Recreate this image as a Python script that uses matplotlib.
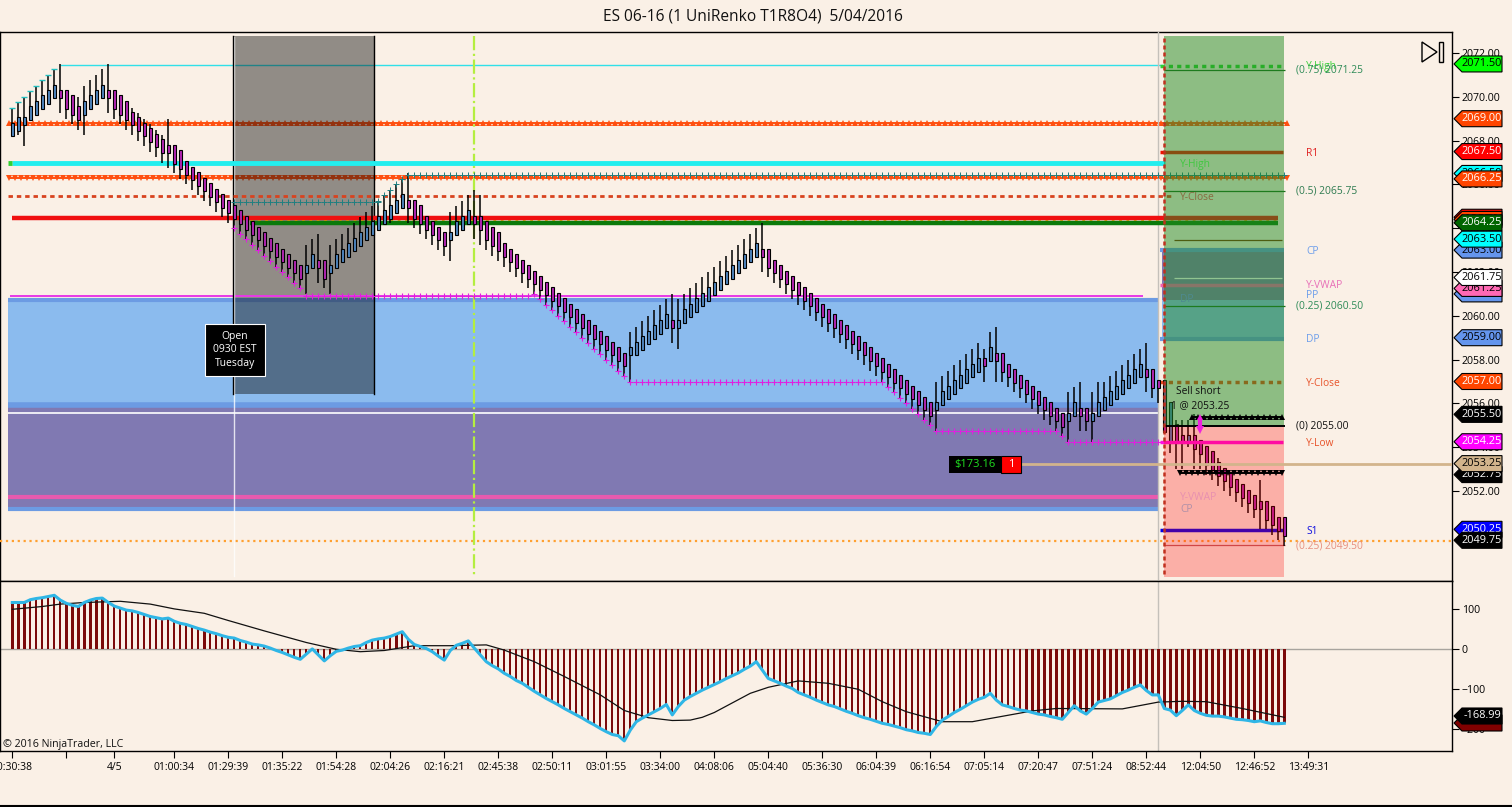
import numpy as np
import matplotlib
matplotlib.use('Agg')
import matplotlib.pyplot as plt
from matplotlib.patches import Polygon, Rectangle

opens = [2068.25,2068.5,2068.75,2069,2069.25,2069.5,2069.75,2070,2070.25,2070.25,
    2070,2069.5,2069.25,2069.5,2069.75,2070,2070.25,2070.25,2070,2069.75,
    2069.25,2069,2068.75,2068.5,2068.25,2068,2067.75,2067.75,2067.5,2067,
    2066.75,2066.5,2066.25,2066,2065.75,2065.5,2065.25,2065,2064.75,2064.5,
    2064.25,2064,2063.75,2063.5,2063.25,2063,2062.75,2062.5,2062.25,2062,
    2062.25,2062.5,2062.5,2062,2062.25,2062.5,2062.75,2063,2063.25,2063.5,
    2063.75,2064,2064.25,2064.5,2064.75,2065,2065.25,2065.25,2065,2064.5,
    2064.25,2064,2063.75,2063.5,2063.75,2064,2064.25,2064.5,2064.5,2064.25,
    2064,2063.75,2063.25,2063,2062.75,2062.5,2062.25,2062,2061.75,2061.5,
    2061.25,2061,2060.75,2060.5,2060.25,2060,2059.75,2059.5,2059.25,2059,
    2058.75,2058.5,2058.25,2058.25,2058.25,2058.5,2058.75,2059,2059.25,2059.5,
    2059.75,2059.5,2059.75,2060,2060.25,2060.5,2060.75,2061,2061.25,2061.5,
    2061.75,2062,2062.25,2062.5,2062.75,2063,2063,2062.5,2062.25,2062,
    2061.75,2061.5,2061.25,2061,2060.75,2060.5,2060.25,2060,2059.75,2059.5,
    2059.25,2059,2058.75,2058.5,2058.25,2058,2057.75,2057.5,2057.25,2057,
    2056.75,2056.5,2056.25,2056,2055.75,2056,2056.25,2056.5,2056.75,2057,
    2057.25,2057.5,2058,2058,2058.25,2058.25,2057.75,2057.5,2057.25,2057,
    2056.75,2056.5,2056.25,2056,2055.75,2055.5,2055.25,2055.5,2055.75,2055.75,
    2055.25,2055.5,2055.75,2056,2056.25,2056.5,2056.75,2057,2057.25,2057.5,
    2057.5,2057,2057,2054.25,2055,2054.5,2054.25,2054.5,2054.25,2054,
    2053.75,2053.25,2053,2052.75,2052.5,2052.25,2052,2051.75,2051.5,2051.5,
    2051.25,2050.75,2050.75]
closes = [2068.75,2069,2069,2069.5,2069.75,2070,2070.25,2070.5,2070,2069.5,
    2069.25,2069,2069.75,2070,2070.25,2070.5,2070,2069.5,2069.25,2069,
    2068.75,2068.5,2068.25,2068,2067.75,2067.5,2067.5,2067,2066.75,2066.5,
    2066.25,2066,2065.75,2065.5,2065.25,2065,2064.75,2064.5,2064.25,2064,
    2063.75,2063.5,2063.25,2063,2062.75,2062.5,2062.25,2062,2061.75,2062.25,
    2062.75,2062.25,2061.75,2062.25,2062.75,2063,2063.25,2063.5,2063.75,2064,
    2064.25,2064.5,2064.75,2065,2065.25,2065.5,2065,2064.5,2064.25,2064,
    2063.75,2063.5,2063.25,2063.75,2064.25,2064.5,2064.75,2064.25,2064,2063.5,
    2063.25,2063,2062.75,2062.5,2062.25,2062,2061.75,2061.5,2061.25,2061,
    2060.75,2060.5,2060.25,2060,2059.75,2059.5,2059.25,2059,2058.75,2058.5,
    2058.25,2058,2057.75,2058.5,2058.75,2059,2059.25,2059.5,2059.75,2060,
    2059.5,2059.75,2060.25,2060.5,2060.75,2061,2061.25,2061.5,2061.75,2062,
    2062.25,2062.5,2062.75,2063,2063.25,2062.75,2062.25,2062,2061.75,2061.5,
    2061.25,2061,2060.75,2060.5,2060.25,2060,2059.75,2059.5,2059.25,2059,
    2058.75,2058.5,2058.25,2058,2057.75,2057.5,2057.25,2057,2056.75,2056.5,
    2056.25,2056,2055.75,2055.5,2056,2056.5,2056.75,2057,2057.25,2057.5,
    2057.75,2058,2057.75,2058.5,2058,2057.5,2057.25,2057,2056.75,2056.5,
    2056.25,2056,2055.75,2055.5,2055.25,2055,2055.5,2056,2055.5,2055.25,
    2055.5,2056,2056.25,2056.5,2056.75,2057,2057.25,2057.5,2057.75,2057.25,
    2056.75,2056.75,2054.75,2056,2054.25,2054.25,2054.5,2054,2053.75,2053.25,
    2053,2052.75,2052.5,2052.25,2052,2051.75,2051.5,2051.25,2051.25,2050.75,
    2050.5,2050.25,2050]
highs = [2069.5,2069.75,2070,2070.25,2070.5,2070.75,2071,2071.25,2071.5,2070.25,
    2070,2070,2070.5,2070.75,2071,2071.25,2071.5,2070.25,2070,2069.75,
    2069.5,2069.25,2069,2068.75,2068.5,2068.25,2069,2067.75,2067.5,2067,
    2066.75,2066.5,2066.25,2066,2065.75,2065.5,2065.25,2065,2064.75,2064.5,
    2064.25,2064,2063.75,2063.5,2063.25,2063,2062.75,2062.5,2062.25,2063.25,
    2063.5,2063.75,2062.5,2063.25,2063.5,2063.75,2064,2064.25,2064.5,2064.75,
    2065,2065.25,2065.5,2065.75,2066,2066.25,2066.5,2065.25,2065,2064.5,
    2064.25,2064,2063.75,2064.75,2065,2065.25,2065.5,2065.75,2065.5,2064.25,
    2064,2063.75,2063.25,2063,2062.75,2062.5,2062.25,2062,2061.75,2061.5,
    2061.25,2061,2060.75,2060.5,2060.25,2060,2059.75,2059.5,2059.25,2059,
    2058.75,2058.5,2058.25,2059.25,2059.5,2059.75,2060,2060.25,2060.5,2060.75,
    2061,2060.75,2061,2061.25,2061.5,2061.75,2062,2062.25,2062.5,2062.75,
    2063,2063.25,2063.5,2063.75,2064,2064.25,2063,2062.5,2062.25,2062,
    2061.75,2061.5,2061.25,2061,2060.75,2060.5,2060.25,2060,2059.75,2059.5,
    2059.25,2059,2058.75,2058.5,2058.25,2058,2057.75,2057.5,2057.25,2057,
    2056.75,2056.5,2056.25,2056,2057,2057.25,2057.5,2057.75,2058,2058.25,
    2058.5,2058.75,2058.5,2059.25,2059.5,2058.25,2057.75,2057.5,2057.25,2057,
    2056.75,2056.5,2056.25,2056,2055.75,2055.5,2056.5,2056.75,2057,2055.75,
    2056.5,2057,2057,2057.25,2057.5,2057.75,2058,2058.25,2058.5,2058.75,
    2057.5,2057,2057,2056,2055.25,2055.25,2055.25,2055.5,2054.25,2054,
    2053.75,2053.5,2053,2052.75,2052.5,2052.25,2052,2051.75,2052.5,2051.5,
    2051.25,2050.75,2050.75]
lows = [2068.25,2068.25,2067.75,2069,2069.25,2069.5,2069.75,2070,2069.25,2069,
    2068.75,2068.5,2068.25,2069.5,2069.75,2070,2069.25,2069,2068.75,2068.5,
    2068.25,2068,2067.75,2067.5,2067.25,2067,2066.75,2066.5,2066.25,2066,
    2065.75,2065.5,2065.25,2065,2064.75,2064.5,2064.25,2064,2063.75,2063.5,
    2063.25,2063,2062.75,2062.5,2062.25,2062,2061.75,2061.5,2061.25,2061,
    2062.25,2061.5,2061.25,2061,2062.25,2062.5,2062.75,2063,2063.25,2063.5,
    2063.75,2064,2064.25,2064.25,2064.75,2065,2064.25,2064,2063.75,2063.5,
    2063.25,2063,2062.75,2062.5,2063.75,2064,2064.25,2063.5,2063.25,2063,
    2062.75,2062.5,2062.25,2062,2061.75,2061.5,2061.25,2061,2060.75,2060.5,
    2060.25,2060,2059.75,2059.5,2059.25,2059,2058.75,2058.5,2058.25,2058,
    2057.75,2057.5,2057.25,2057,2058.25,2058.5,2058.75,2059,2059.25,2059.5,
    2058.75,2058.5,2059.75,2060,2060.25,2060.5,2060.75,2061,2061.25,2061.5,
    2061.75,2062,2062.25,2062.5,2062.75,2062,2061.75,2061.5,2061.25,2061,
    2060.75,2060.5,2060.25,2060,2059.75,2059.5,2059.25,2059,2058.75,2058.5,
    2058.25,2058,2057.75,2057.5,2057.25,2057,2056.75,2056.5,2056.25,2056,
    2055.75,2055.5,2055.25,2055,2054.75,2056,2056.25,2056.5,2056.75,2057,
    2057.25,2057.5,2057,2058,2057,2057,2056.75,2056.5,2056.25,2056,
    2055.75,2055.5,2055.25,2055,2054.75,2054.5,2054.25,2055.5,2054.75,2054.75,
    2054.25,2055.5,2055.75,2056,2056.25,2056.5,2056.75,2057,2057.25,2056.5,
    2056.25,2056,2054.75,2053.75,2053,2053,2054,2053,2053,2052.75,
    2052.5,2052.25,2052,2051.75,2051.5,2051.25,2051,2050.75,2050.25,2050.25,
    2050,2049.75,2049.5]

# lower panel
macd_values = [117,117,117,124,127,129,132,135,123,115,
    110,107,117,123,127,128,117,108,103,98,
    96,92,87,82,79,76,78,70,65,62,
    57,52,48,43,39,34,30,28,22,18,
    13,11,8,3,-3,-8,-14,-20,-25,-12,
    1,-14,-29,-16,-5,-2,3,7,9,17,
    23,26,28,32,38,44,25,12,7,2,
    -6,-17,-27,-3,10,15,21,3,-14,-31,
    -41,-49,-60,-68,-78,-85,-95,-105,-114,-123,
    -131,-139,-148,-156,-164,-172,-181,-189,-198,-206,
    -213,-216,-229,-202,-181,-172,-164,-156,-148,-138,
    -164,-143,-127,-118,-110,-102,-95,-88,-81,-73,
    -66,-59,-50,-42,-31,-52,-73,-79,-85,-92,
    -98,-108,-114,-120,-127,-133,-139,-143,-149,-155,
    -160,-166,-171,-175,-180,-185,-188,-192,-196,-201,
    -204,-208,-210,-213,-193,-177,-168,-158,-150,-141,
    -132,-125,-120,-110,-127,-139,-143,-148,-152,-154,
    -158,-162,-164,-168,-171,-175,-158,-141,-154,-162,
    -148,-132,-128,-124,-116,-108,-102,-95,-89,-103,
    -114,-114,-148,-152,-166,-153,-139,-153,-160,-165,
    -167,-167,-169,-172,-175,-176,-178,-181,-179,-183,
    -186,-186,-185]
signal_bars = [0,5,8,12,18,23,27,32,36,42,49,54,58,62,67,73,79,82,87,92,98,102,106,110,113,115,
    117,123,126,131,136,141,145,149,155,160,170,174,185,191,195,199,205,212]
signal_values = [100,107,113,117,120,113,101,90,72,46,17,0,-6,-3,9,9,11,-2,-31,-68,-114,-153,-171,-178,-177,-170,
    -158,-110,-95,-79,-85,-100,-131,-156,-181,-181,-154,-148,-149,-132,-130,-131,-148,-170]

tick_bars = [0,9,17,27,36,45,54,63,72,81,90,99,108,117,126,135,144,153,162,171,180,189,198,207,216]
tick_labels = ['00:30:38','','4/5','01:00:34','01:29:39','01:35:22','01:54:28','02:04:26','02:16:21',
    '02:45:38','02:50:11','03:01:55','03:34:00','04:08:06','05:04:40','05:36:30','06:04:39',
    '06:16:54','07:05:14','07:20:47','07:51:24','08:52:44','12:04:50','12:46:52','13:49:31']
price_ticks = [2052,2054,2056,2058,2060,2062,2064,2066,2068,2070,2072]

tag_prices = [2071.5,2069.0,2067.5,2066.5,2066.25,2064.5,2064.4,2064.25,2063.0,2063.5,
    2061.0,2061.25,2061.75,2059.0,2057.0,2055.5,2054.25,2052.75,2053.25,2050.25,2049.75]
tag_colors = ['#00ff00','#ff4500','#ff0000','#00ffff','#ff4500','#ff0000','#ff4500','#006400','#6495ed','#00ffff',
    '#6495ed','#ff69b4','#ffffff','#6495ed','#ff4500','#000000','#ff00ff','#000000','#d2b48c','#0000ff','#000000']
tag_text_colors = ['black','white','white','black','white','white','white','white','black','black',
    'black','black','black','black','white','white','white','white','black','white','white']

BG = '#faf0e6'
FONT = ['Open Sans', 'DejaVu Sans']
plt.rcParams['font.family'] = FONT

tagOrder = [10]


def px(x):
    # pixel column -> bar index
    return (x - 12.3) / 6.0


def priceToRow(p):
    return 53 + (2072 - p) * 21.9


def rowToPrice(y):
    return 2072 - (y - 53) / 21.9


def hline(ax, y, x0, x1, color, lw, z=4, ls='-'):
    ax.plot([px(x0), px(x1)], [rowToPrice(y)] * 2, color=color, lw=lw, ls=ls, zorder=z, solid_capstyle='butt')


def zone(ax, x0, x1, y0, y1, color, z=1, alpha=1.0):
    ax.add_patch(Rectangle((px(x0), rowToPrice(y1)), px(x1) - px(x0), rowToPrice(y0) - rowToPrice(y1),
                           facecolor=color, edgecolor='none', alpha=alpha, zorder=z))


def zigzag(ax, y, x0, x1, marker, color, z=2, size=5.0):
    xs = np.arange(px(x0), px(x1), 1.0)
    ax.plot(xs, [rowToPrice(y)] * len(xs), color=color, lw=1.4, marker=marker, ms=size, mew=0, zorder=z)


def drawTag(ov, row, text, color, textColor):
    pts = [(1454, row), (1462, row - 8), (1502, row - 8), (1502, row + 8), (1462, row + 8)]
    z = tagOrder[0]
    tagOrder[0] += 2
    ov.add_patch(Polygon(pts, closed=True, facecolor=color, edgecolor='black', lw=0.8, zorder=z))
    ov.text(1482, row, text, color=textColor, fontsize=7.9, ha='center', va='center', zorder=z + 1)


def drawCandles(ax):
    bars = np.arange(len(closes))
    o = np.array(opens)
    c = np.array(closes)
    ax.vlines(bars, lows, highs, color='black', lw=1.1, zorder=5)
    colors = ['#4f86c0' if c[i] > o[i] else '#b526b5' for i in bars]
    # bodies read a touch taller than the quarter point values
    ax.bar(bars, np.abs(c - o) + 0.12, bottom=np.minimum(o, c) - 0.06, width=0.58, color=colors,
           edgecolor='black', lw=0.8, zorder=6)


def drawStops(ax):
    magenta = '#e01fe0'
    teal = '#1f7f80'
    # trailing swing marks
    segs = [(37, 49), (87, 103), (146, 154), (174, 176)]
    for a, b in segs:
        ax.plot(range(a, b), lows[a:b], ls='', marker='+', ms=4, mew=0.8, color=magenta, zorder=5)
    flats = [(49, 87, 296), (103, 146, 382), (154, 174, 431), (176, 192, 442)]
    for a, b, y in flats:
        ax.plot(range(a, b), [rowToPrice(y)] * (b - a), ls='', marker='+', ms=4.2, mew=0.8, color=magenta, zorder=5)
    ax.plot(range(37, 62), [rowToPrice(202)] * 25, ls='', marker='+', ms=4.2, mew=0.7, color=teal, zorder=5)
    ax.plot(range(61, 66), highs[61:66], ls='', marker='+', ms=4.2, mew=0.7, color=teal, zorder=5)
    ax.plot(range(66, 213), [rowToPrice(175)] * 147, ls='', marker='+', ms=4.2, mew=0.7, color=teal, zorder=5)
    ax.plot(range(0, 8), highs[0:8], ls='', marker='_', ms=5, mew=1, color='#20c0c0', zorder=5)


def drawPriceLevels(ax):
    # blue / purple zones
    zone(ax, 8, 1158, 300, 405, '#8bbbee')
    zone(ax, 8, 1158, 405, 509, '#8079b2')
    zone(ax, 1162, 1284, 250, 300, '#8079b2')
    zone(ax, 1162, 1284, 300, 339, '#8bbbee')
    hline(ax, 300, 8, 1158, '#6c9be3', 3, z=1.5)
    hline(ax, 405, 8, 1158, '#6c9be3', 4, z=1.5)
    hline(ax, 509, 8, 1158, '#6c9be3', 3, z=1.5)
    hline(ax, 250, 1160, 1284, '#6c9be3', 3, z=1.5)
    hline(ax, 339, 1160, 1284, '#6c9be3', 3, z=1.5)
    hline(ax, 413, 8, 1158, 'white', 1.2, z=1.6)
    hline(ax, 497, 8, 1158, '#e85aae', 3, z=1.6)

    zigzag(ax, 123, 9, 1288, '^', '#ff4f10')
    zigzag(ax, 177.5, 9, 1288, 'v', '#ff4f10')
    zone(ax, 234, 375, 36, 394, '#0c0c0c', z=3, alpha=0.44)

    hline(ax, 65, 60, 1163, '#30e0e8', 1, z=2.5)
    hline(ax, 163, 12, 1165, '#22eeee', 3.5)
    hline(ax, 163, 8, 12, '#30d030', 3.5)
    hline(ax, 196, 8, 1173, '#d8431f', 2, ls=(0, (1.6, 1.4)))
    hline(ax, 218, 12, 1278, '#f01010', 3.2)
    hline(ax, 220.5, 250, 1280, '#ffb000', 2, z=3.9, ls=':')
    hline(ax, 223, 250, 1278, '#0a7a0a', 3.2)
    hline(ax, 296, 10, 1143, '#e838e8', 1.4, z=3)
    hline(ax, 541, 0, 1452, '#ffa030', 1.6, z=3, ls=':')
    hline(ax, 464, 1021, 1452, '#d2b48c', 2, z=8)

    # right hand levels
    hline(ax, 65.5, 1160, 1284, '#30d030', 2.5, ls=(0, (1.2, 1.2)))
    hline(ax, 70, 1164, 1285, '#1b6b1b', 0.9)
    hline(ax, 152, 1160, 1283, '#f01000', 2.5)
    hline(ax, 191, 1164, 1285, '#1b6b1b', 0.9)
    hline(ax, 240, 1174, 1282, '#7a3000', 0.9)
    hline(ax, 278, 1174, 1282, 'white', 0.9)
    hline(ax, 285, 1160, 1283, '#f060b0', 2.5)
    hline(ax, 306, 1164, 1285, '#1b6b1b', 0.9)
    hline(ax, 382, 1160, 1283, '#f04818', 2.5, ls=(0, (1.2, 1.2)))
    hline(ax, 426, 1164, 1285, 'black', 1.4, z=8)
    zigzag(ax, 417, 1192, 1287, '^', 'black', z=8, size=4.2)
    zigzag(ax, 473, 1180, 1287, 'v', 'black', z=8, size=4.2)
    hline(ax, 442, 1160, 1283, '#ff10e0', 2.5, z=6.5)
    hline(ax, 530, 1160, 1283, '#0000e8', 2.5)
    hline(ax, 545, 1164, 1285, '#c06060', 0.9)

    # session verticals
    ax.axvline(px(234.5), color='white', lw=1, alpha=0.8, ymin=0.01, ymax=0.99, zorder=3.5)
    ax.plot([px(233.5)] * 2, [rowToPrice(36), rowToPrice(394)], color='black', lw=1.0, zorder=3.6)
    ax.plot([px(374.5)] * 2, [rowToPrice(36), rowToPrice(394)], color='black', lw=1.0, zorder=3.6)
    ax.plot([px(474.5)] * 2, [rowToPrice(36), rowToPrice(575)], color='#b4ee40', lw=1.6, ls='-.', zorder=3.7)
    ax.axvline(px(1158.5), color='#c4c0ba', lw=1, zorder=3.8)

    # target boxes above the candles
    zone(ax, 1164, 1284, 36, 426, '#228b22', z=7, alpha=0.5)
    zone(ax, 1164, 1284, 426, 577, '#ff0000', z=7, alpha=0.27)
    ax.plot([px(1164)] * 2, [rowToPrice(38), rowToPrice(575)], color='#c0301e', lw=1.8, ls=(0, (1.6, 1.2)), zorder=8)
    ax.plot([px(1200)] * 2, [rowToPrice(418), rowToPrice(428)], color='#ee22dd', lw=3, zorder=9, solid_capstyle='butt')
    ax.plot([px(1200)], [rowToPrice(430)], marker='v', ms=6, mew=0, color='#ee22dd', zorder=9)
    ax.plot([px(1200)], [rowToPrice(417)], marker='^', ms=5, mew=0, color='#ee22dd', zorder=9)


def drawLabels(ov):
    labels = [
        (1306, 67, 'Y-High', '#40d040'), (1296, 70, '(0.75) 2071.25', '#2e8b57'),
        (1306, 153, 'R1', '#e02020'), (1180, 164, 'Y-High', '#40c840'),
        (1296, 191, '(0.5) 2065.75', '#2e7b50'), (1180, 197, 'Y-Close', '#886a40'),
        (1306, 252, 'CP', '#6d9eeb'), (1306, 285, 'Y-VWAP', '#e870b8'),
        (1306, 296, 'PP', '#6d9eeb'), (1180, 300, 'DP', '#4e8a90'),
        (1296, 306, '(0.25) 2060.50', '#2e8b57'), (1306, 339, 'DP', '#6d9eeb'),
        (1306, 383, 'Y-Close', '#e8552c'), (1176, 391, 'Sell short', '#101010'),
        (1171, 406, '1 @ 2053.25', '#101010'), (1296, 426, '(0) 2055.00', '#101010'),
        (1306, 443, 'Y-Low', '#e8552c'), (1180, 498, 'Y-VWAP', '#e890b0'),
        (1180, 509, 'CP', '#b090a8'), (1306, 531, 'S1', '#1010e0'),
        (1296, 546, '(0.25) 2049.50', '#e89080'),
    ]
    for x, y, text, color in labels:
        ov.text(x, y, text, color=color, fontsize=7.4, ha='left', va='center')

    ov.text(753, 16.5, 'ES 06-16 (1 UniRenko T1R8O4)  5/04/2016', fontsize=11.2, ha='center', va='center', color='#111111')
    ov.text(3, 745, '\u00a9 2016 NinjaTrader, LLC', fontsize=7.7, ha='left', va='center', color='#111111')

    ov.add_patch(Rectangle((204.5, 323.5), 60.5, 52.5, facecolor='black', edgecolor='white', lw=0.8))
    ov.text(235, 350, 'Open\n0930 EST\nTuesday', color='white', fontsize=7.5, ha='center', va='center', linespacing=1.35)
    ov.add_patch(Rectangle((949, 456), 52, 17, facecolor='black', edgecolor='none'))
    ov.add_patch(Rectangle((1001, 456), 20, 17, facecolor='#ff0000', edgecolor='black', lw=0.8))
    ov.text(975, 464.5, '$173.16', color='#20e020', fontsize=8, ha='center', va='center')
    ov.text(1011, 464.5, '1', color='white', fontsize=8, ha='center', va='center')

    # play to end button
    ov.add_patch(Polygon([(1422, 42), (1437, 52), (1422, 62)], closed=True, fill=False, edgecolor='black', lw=1.0))
    ov.add_patch(Rectangle((1439, 42), 4, 20, fill=False, edgecolor='black', lw=1.0))

    for price, color, textColor in zip(tag_prices, tag_colors, tag_text_colors):
        drawTag(ov, priceToRow(price), '%.2f' % price, color, textColor)
    # indicator tags
    drawTag(ov, 723, '', '#800000', 'white')
    drawTag(ov, 716, '-168.99', '#000000', 'white')


def main():
    fig = plt.figure(figsize=(15.12, 8.07), dpi=100, facecolor=BG)
    W, H = 1512.0, 807.0

    ax = fig.add_axes([0, (H - 581) / H, 1452 / W, 549 / H], facecolor=BG)
    ind = fig.add_axes([0, (H - 751) / H, 1452 / W, 170 / H], facecolor=BG)

    ax.set_xlim(px(0), px(1452))
    ax.set_ylim(rowToPrice(581), rowToPrice(32))
    ax.set_xticks([])
    ax.yaxis.tick_right()
    ax.set_yticks(price_ticks)
    ax.set_yticklabels(['%.2f' % p for p in price_ticks])
    ax.tick_params(axis='y', length=5, width=0.8, pad=2, labelsize=7.6)

    drawPriceLevels(ax)
    drawCandles(ax)
    drawStops(ax)

    ind.set_xlim(px(0), px(1452))
    ind.set_ylim(-254.25, 170.75)
    bars = np.arange(len(macd_values))
    ind.axhline(0, color='#a8a49e', lw=1, zorder=1)
    ind.axvline(px(1158.5), color='#c4c0ba', lw=1, zorder=1)
    ind.bar(bars, macd_values, width=0.4, color='#7b0a0a', zorder=2)
    ind.plot(signal_bars, signal_values, color='#111111', lw=0.9, zorder=3)
    ind.plot(bars, macd_values, color='#2fb6e6', lw=2.2, zorder=4)
    ind.yaxis.tick_right()
    ind.set_yticks([100, 0, -100, -200])
    ind.tick_params(axis='y', length=5, width=0.8, pad=2, labelsize=7.6)
    ind.set_xticks(tick_bars)
    ind.set_xticklabels(tick_labels)
    ind.tick_params(axis='x', length=5, width=0.8, pad=3, labelsize=7.5)

    for a in (ax, ind):
        for s in a.spines.values():
            s.set_linewidth(1.0)
            s.set_color('black')

    ov = fig.add_axes([0, 0, 1, 1], facecolor='none')
    ov.set_xlim(0, W)
    ov.set_ylim(H, 0)
    ov.axis('off')
    ov.plot([0, W], [806, 806], color='black', lw=1.5)
    drawLabels(ov)

    fig.savefig('out.png', dpi=100, facecolor=BG)


if __name__ == '__main__':
    main()
